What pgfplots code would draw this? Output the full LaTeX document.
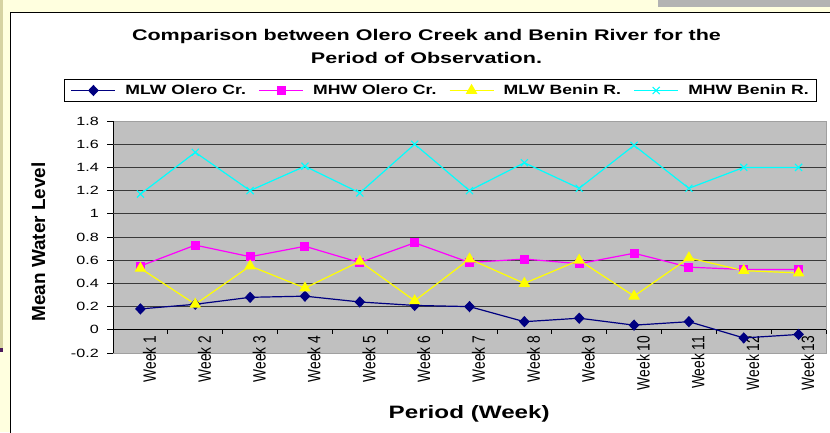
\documentclass[border=0pt]{standalone}
\usepackage{pgfplots}
\pgfplotsset{compat=1.18}
\usepackage{fontspec}
\setmainfont{Liberation Sans}
\usepackage{graphicx}
\newcommand{\sx}[1]{\scalebox{1.35}[1]{#1}}
\newcommand{\lx}[1]{\scalebox{1.31}[1]{#1}}
\definecolor{bgy}{HTML}{FFFFDF}
\definecolor{khaki}{HTML}{D6D3A2}
\definecolor{purp}{HTML}{4A1A5C}
\definecolor{graybox}{HTML}{B3B3B3}
\definecolor{plotgray}{HTML}{C0C0C0}
\definecolor{bordergray}{HTML}{A0A0A0}
\definecolor{gridc}{HTML}{3A3A3A}
\definecolor{navyc}{HTML}{000080}
\definecolor{magc}{HTML}{FF00FF}
\definecolor{yelc}{HTML}{FFFF00}
\definecolor{cyac}{HTML}{00FFFF}
\begin{document}
\begin{tikzpicture}[x=1bp,y=1bp]
\useasboundingbox (0,0) rectangle (830,432);
\fill[bgy] (0,0) rectangle (830,432);
\fill[khaki] (0,84) rectangle (3,432);
\fill[purp] (0,80) rectangle (3,84);
\fill[graybox] (658,425) rectangle (830,432);
\fill[white] (10,0) rectangle (831,420);
\draw[black, line width=1bp] (10.5,-1) -- (10.5,419.5) -- (831,419.5);

\begin{axis}[
  at={(113bp,79bp)}, anchor=south west, scale only axis,
  width=713bp, height=232bp,
  xmin=0.5, xmax=13.5, ymin=-0.2, ymax=1.8,
  axis x line*=middle, axis y line*=left,
  axis line style={black, line width=0.9bp},
  axis background/.style={fill=plotgray, draw=bordergray, line width=0.8bp},
  hide obscured x ticks=false, hide obscured y ticks=false,
  tick align=outside,
  xtick={1,...,13},
  xticklabels={Week 1,Week 2,Week 3,Week 4,Week 5,Week 6,Week 7,Week 8,Week 9,Week 10,Week 11,Week 12,Week 13},
  major x tick style={draw=none},
  minor xtick={1.5,2.5,3.5,4.5,5.5,6.5,7.5,8.5,9.5,10.5,11.5,12.5,13.5},
  minor tick length=4bp,
  minor x tick style={black, line width=0.8bp},
  major tick length=6bp,
  ytick={-0.2,0,0.2,0.4,0.6,0.8,1,1.2,1.4,1.6,1.8},
  yticklabels={\sx{-0.2},\sx{0},\sx{0.2},\sx{0.4},\sx{0.6},\sx{0.8},\sx{1},\sx{1.2},\sx{1.4},\sx{1.6},\sx{1.8}},
  major y tick style={black, line width=0.8bp},
  extra y ticks={0.2,0.4,0.6,0.8,1,1.2,1.4,1.6},
  extra y tick labels={},
  extra y tick style={ymajorgrids=true, major tick length=0pt, major grid style={gridc, line width=0.9bp}},
  xticklabel style={rotate=90, yscale=1.3, anchor=east, inner sep=0pt, font=\fontsize{13.8}{16}\selectfont, yshift=-7bp},
  yticklabel style={anchor=east, inner sep=0pt, font=\fontsize{12}{14}\selectfont, xshift=-8bp},
  legend columns=4,
  legend style={at={(0.4593,1.1315)}, anchor=center, draw=black, line width=0.9bp, fill=white,
    inner xsep=6bp, inner ysep=4bp,
    font=\bfseries\fontsize{13.5}{16}\selectfont,
    nodes={inner sep=1.5bp},
    /tikz/every odd column/.append style={column sep=8bp},
    /tikz/every even column/.append style={column sep=11bp}},
  legend image code/.code={\draw[mark repeat=2,mark phase=2,#1] plot coordinates {(0bp,0bp) (22bp,0bp) (44bp,0bp)};},
]
\addplot[color=navyc, line width=1.2bp, mark=diamond*, mark size=4.8bp, mark options={solid, fill=navyc, xscale=1.25}]
  coordinates {(1,0.18)(2,0.22)(3,0.28)(4,0.29)(5,0.24)(6,0.21)(7,0.20)(8,0.07)(9,0.10)(10,0.04)(11,0.07)(12,-0.07)(13,-0.04)};
\addlegendentry{\lx{MLW Olero Cr.}}
\addplot[color=magc, line width=1.2bp, mark=square*, mark size=3.9bp, mark options={solid, fill=magc}]
  coordinates {(1,0.55)(2,0.73)(3,0.63)(4,0.72)(5,0.58)(6,0.75)(7,0.58)(8,0.61)(9,0.57)(10,0.66)(11,0.54)(12,0.52)(13,0.52)};
\addlegendentry{\lx{MHW Olero Cr.}}
\addplot[color=yelc, line width=1.2bp, mark=triangle*, mark size=5.5bp, mark options={solid, fill=yelc}]
  coordinates {(1,0.53)(2,0.22)(3,0.55)(4,0.36)(5,0.59)(6,0.25)(7,0.61)(8,0.40)(9,0.60)(10,0.29)(11,0.62)(12,0.51)(13,0.49)};
\addlegendentry{\lx{MLW Benin R.}}
\addplot[color=cyac, line width=1.2bp, mark=x, mark size=5bp, mark options={solid, line width=1.1bp}]
  coordinates {(1,1.17)(2,1.53)(3,1.20)(4,1.41)(5,1.18)(6,1.60)(7,1.20)(8,1.44)(9,1.22)(10,1.59)(11,1.22)(12,1.40)(13,1.40)};
\addlegendentry{\lx{MHW Benin R.}}
\end{axis}

\node[anchor=base, inner sep=0, font=\bfseries\fontsize{15.5}{18}\selectfont] at (426.5,391.3)
  {\scalebox{1.395}[1]{Comparison between Olero Creek and Benin River for the}};
\node[anchor=base, inner sep=0, font=\bfseries\fontsize{15.5}{18}\selectfont] at (426.5,368.7)
  {\scalebox{1.395}[1]{Period of Observation.}};
\node[rotate=90, inner sep=0, font=\bfseries\fontsize{19}{22}\selectfont] at (38.3,190) {Mean Water Level};
\node[anchor=base, inner sep=0, font=\bfseries\fontsize{18}{21}\selectfont] at (469.2,13.7)
  {\scalebox{1.35}[1]{Period (Week)}};
\end{tikzpicture}
\end{document}
